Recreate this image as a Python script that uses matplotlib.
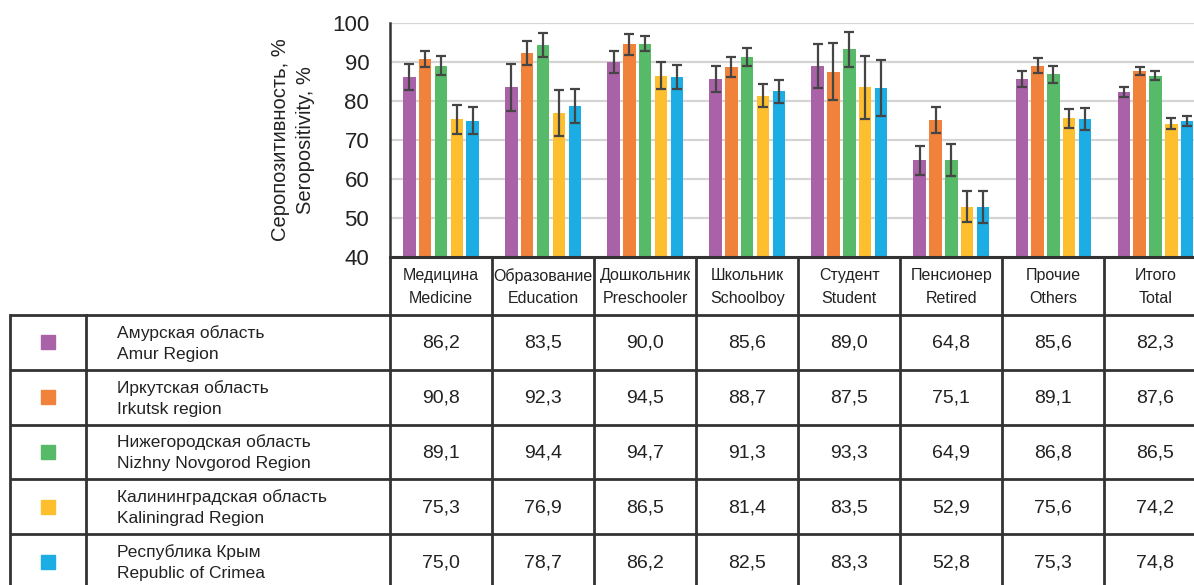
import matplotlib
matplotlib.use("Agg")
import matplotlib.pyplot as plt
from matplotlib.patches import Rectangle
import numpy as np

# ---- data ----
categories_ru = ["Медицина", "Образование", "Дошкольник", "Школьник",
                 "Студент", "Пенсионер", "Прочие", "Итого"]
categories_en = ["Medicine", "Education", "Preschooler", "Schoolboy",
                 "Student", "Retired", "Others", "Total"]

regions_ru = ["Амурская область", "Иркутская область", "Нижегородская область",
              "Калининградская область", "Республика Крым"]
regions_en = ["Amur Region", "Irkutsk region", "Nizhny Novgorod Region",
              "Kaliningrad Region", "Republic of Crimea"]

amur = [86.2, 83.5, 90.0, 85.6, 89.0, 64.8, 85.6, 82.3]
irkutsk = [90.8, 92.3, 94.5, 88.7, 87.5, 75.1, 89.1, 87.6]
nizhny = [89.1, 94.4, 94.7, 91.3, 93.3, 64.9, 86.8, 86.5]
kaliningrad = [75.3, 76.9, 86.5, 81.4, 83.5, 52.9, 75.6, 74.2]
crimea = [75.0, 78.7, 86.2, 82.5, 83.3, 52.8, 75.3, 74.8]

# half-widths of the 95% confidence intervals
amur_err = [3.4, 6.0, 2.9, 3.3, 5.6, 3.7, 2.0, 1.4]
irkutsk_err = [2.1, 3.0, 2.6, 2.6, 7.3, 3.3, 1.9, 1.0]
nizhny_err = [2.4, 3.0, 2.0, 2.2, 4.5, 4.1, 2.1, 1.1]
kaliningrad_err = [3.8, 5.9, 3.4, 3.0, 8.1, 4.0, 2.4, 1.4]
crimea_err = [3.4, 4.4, 3.1, 3.0, 7.2, 4.0, 2.8, 1.3]

y_ticks = [40, 50, 60, 70, 80, 90, 100]

series = [amur, irkutsk, nizhny, kaliningrad, crimea]
errors = [amur_err, irkutsk_err, nizhny_err, kaliningrad_err, crimea_err]
colors = ["#A962A8", "#F0823C", "#57BA68", "#FDBF2D", "#1BADE3"]

# ---- style ----
plt.rcParams["font.family"] = ["Liberation Sans", "DejaVu Sans"]
LINE = "#333333"
TXT = "#222222"

W, H, DPI = 1194, 585, 100
fig = plt.figure(figsize=(W / DPI, H / DPI), dpi=DPI)

# chart area in pixel layout
ax_left, ax_right, ax_top, ax_bottom = 390, 1206.5, 23, 257
ax = fig.add_axes([ax_left / W, (H - ax_bottom) / H,
                   (ax_right - ax_left) / W, (ax_bottom - ax_top) / H])

n_cat = len(categories_ru)
x = np.arange(n_cat)
step, width = 0.155, 0.122
for k, (vals, errs, col) in enumerate(zip(series, errors, colors)):
    offs = (k - 2) * step
    ax.bar(x + offs, vals, width=width, color=col, zorder=2)
    ax.errorbar(x + offs, vals, yerr=errs, fmt="none", ecolor="#454545",
                elinewidth=1.6, capsize=3.5, capthick=1.6, zorder=3)

ax.set_xlim(-0.5, n_cat - 0.5)
ax.set_ylim(40, 100)
ax.set_yticks(y_ticks)
ax.set_xticks([])
ax.tick_params(axis="y", length=0, pad=15, labelsize=16, colors=TXT)
ax.yaxis.grid(True, color="#d4d4d4", linewidth=1.6, zorder=0)
ax.set_axisbelow(True)
for s in ("top", "right"):
    ax.spines[s].set_visible(False)
ax.spines["left"].set_color(LINE)
ax.spines["left"].set_linewidth(1.8)
ax.spines["bottom"].set_color(LINE)
ax.spines["bottom"].set_linewidth(2.2)

fig.text(293 / W, (H - 140) / H, "Серопозитивность, %\nSeropositivity, %",
         rotation=90, ha="center", va="center", multialignment="center",
         fontsize=14.5, color=TXT, linespacing=1.45)

# ---- table underneath, drawn in pixel coordinates ----
ov = fig.add_axes([0, 0, 1, 1], zorder=5)
ov.set_xlim(0, W)
ov.set_ylim(H, 0)
ov.axis("off")
ov.patch.set_alpha(0)

# column edges follow the chart's category slots
col_edges = [ax.transData.transform((i - 0.5, 40))[0] for i in range(n_cat + 1)]
col_centers = [ax.transData.transform((i, 40))[0] for i in range(n_cat)]

header_bottom = 315
row_h = 54.8
n_rows = len(series)
row_edges = [header_bottom + r * row_h for r in range(n_rows + 1)]
table_left, legend_right = 10, 86

lw = 2.0
for yv in row_edges:
    ov.plot([table_left, W + 30], [yv, yv], color=LINE, lw=lw, solid_capstyle="butt")
for xv in (table_left, legend_right):
    ov.plot([xv, xv], [header_bottom, row_edges[-1]], color=LINE, lw=lw)
for xv in col_edges:
    ov.plot([xv, xv], [ax_bottom, row_edges[-1]], color=LINE, lw=lw)

for i in range(n_cat):
    ov.text(col_centers[i], (ax_bottom + header_bottom) / 2 + 1,
            f"{categories_ru[i]}\n{categories_en[i]}", ha="center", va="center",
            fontsize=11.5, color=TXT, linespacing=1.6)

for r in range(n_rows):
    yc = (row_edges[r] + row_edges[r + 1]) / 2
    ov.add_patch(Rectangle((48 - 7, yc - 7), 14, 14, color=colors[r]))
    ov.text(117, yc + 1, f"{regions_ru[r]}\n{regions_en[r]}", ha="left", va="center",
            fontsize=12.5, color=TXT, linespacing=1.5)
    for i in range(n_cat):
        ov.text(col_centers[i], yc + 1, f"{series[r][i]:.1f}".replace(".", ","),
                ha="center", va="center", fontsize=14, color=TXT)

fig.savefig("out.png", dpi=DPI)
